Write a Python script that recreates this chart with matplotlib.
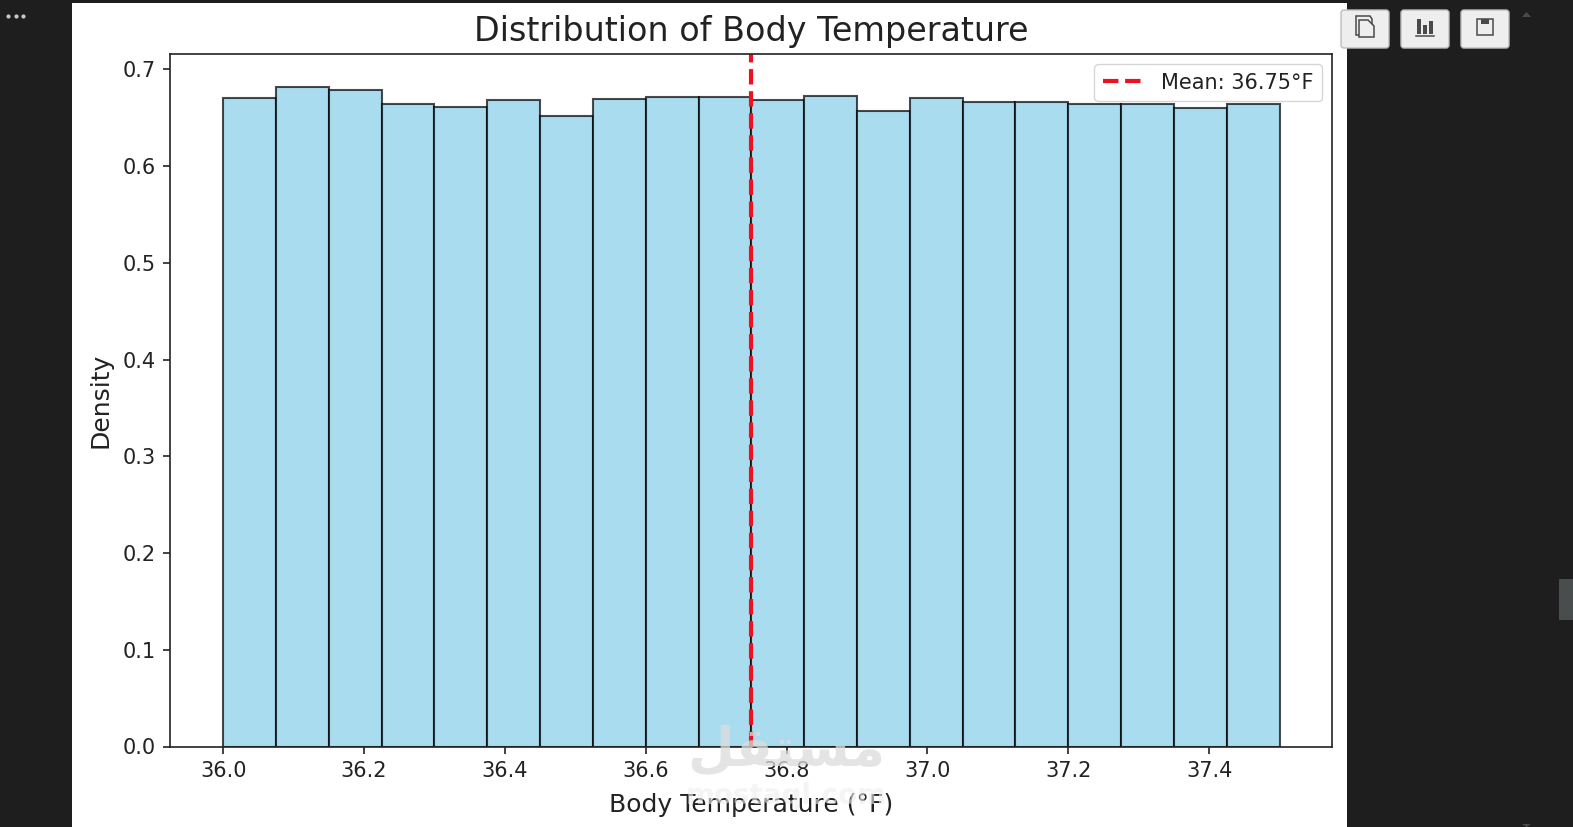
import matplotlib
matplotlib.use("Agg")
import matplotlib.pyplot as plt
from matplotlib.patches import FancyBboxPatch, Polygon, Rectangle

# Histogram data: density per bin over 36.0-37.5 degrees
bin_start = 36.0
bin_end = 37.5
densities = [0.671, 0.682, 0.679, 0.664, 0.661, 0.668, 0.652, 0.669, 0.672, 0.672,
             0.668, 0.673, 0.657, 0.671, 0.666, 0.666, 0.664, 0.664, 0.660, 0.664]
mean_temp = 36.75
x_ticks = [36.0, 36.2, 36.4, 36.6, 36.8, 37.0, 37.2, 37.4]
y_ticks = [0.0, 0.1, 0.2, 0.3, 0.4, 0.5, 0.6, 0.7]

W, H = 1573, 827
DARK = "#1e1e1e"
INK = "#222222"

fig = plt.figure(figsize=(W / 100, H / 100), dpi=100, facecolor=DARK)

# Full-figure layer in pixel units for the notebook surroundings
ui = fig.add_axes([0, 0, 1, 1], zorder=0)
ui.set_xlim(0, W)
ui.set_ylim(H, 0)
ui.axis("off")
ui.add_patch(Rectangle((72, 3), 1275, 824, fc="white", ec="none"))

# Chart axes
ax = fig.add_axes([170.4 / W, 1 - 746.5 / H, 1162 / W, 692.5 / H], zorder=1)
n_bins = len(densities)
width = (bin_end - bin_start) / n_bins
lefts = [bin_start + i * width for i in range(n_bins)]
ax.bar(lefts, densities, width=width, align="edge", color="skyblue",
       edgecolor="black", linewidth=1.5, alpha=0.7)
ax.axvline(mean_temp, color="#f01020", linestyle="--", linewidth=3,
           label=f"Mean: {mean_temp:.2f}°F")

ax.set_xlim(35.925, 37.575)
ax.set_ylim(0, 0.716)
ax.set_xticks(x_ticks)
ax.set_xticklabels([f"{v:.1f}" for v in x_ticks])
ax.set_yticks(y_ticks)
ax.set_yticklabels([f"{v:.1f}" for v in y_ticks])
ax.tick_params(labelsize=15, width=1.2, length=5.25, pad=5.25, colors=INK)
for spine in ax.spines.values():
    spine.set_linewidth(1.2)
    spine.set_color(INK)

ax.set_title("Distribution of Body Temperature", fontsize=24, pad=9, color=INK)
ax.set_xlabel("Body Temperature (°F)", fontsize=18, labelpad=8.5, color=INK)
ax.set_ylabel("Density", fontsize=18, labelpad=7, color=INK)
legend = ax.legend(loc="upper right", fontsize=15, framealpha=0.8)
for label in legend.get_texts():
    label.set_color(INK)

# Foreground layer for toolbar icons and the faint site mark
top = fig.add_axes([0, 0, 1, 1], zorder=2)
top.set_xlim(0, W)
top.set_ylim(H, 0)
top.axis("off")
top.patch.set_alpha(0)

for dot_x in (8, 15.5, 23):
    top.plot([dot_x], [16], "o", ms=3, color="#c8c8c8", mec="none")

for bx in (1341, 1401, 1461):
    top.add_patch(FancyBboxPatch((bx + 2, 12), 44, 34, boxstyle="round,pad=2,rounding_size=3",
                                 fc="#eeeeee", ec="#bdbdbd", lw=1))

icon = "#4a4a4a"
# Copy icon
top.add_patch(Polygon([(1356, 16), (1370, 16), (1372, 19), (1372, 35), (1356, 35)],
                      closed=True, fc="none", ec=icon, lw=1.1))
top.add_patch(Polygon([(1359, 20), (1368, 20), (1374, 26), (1374, 37), (1359, 37)],
                      closed=True, fc="#eeeeee", ec=icon, lw=1.1))
# Bar chart icon
for rx, rtop in ((1417, 19), (1423, 25), (1429, 21)):
    top.add_patch(Rectangle((rx, rtop), 4, 34 - rtop, fc=icon, ec="none"))
top.plot([1416, 1434], [35.5, 35.5], color=icon, lw=1.1)
# Save icon
top.add_patch(Rectangle((1477, 19), 16, 16, fc="none", ec=icon, lw=1.1))
top.add_patch(Rectangle((1481, 19), 8, 5, fc=icon, ec="none"))

# Scrollbar arrows and thumb
top.add_patch(Polygon([(1522, 17), (1531, 17), (1526.5, 12)], closed=True, fc="#4a4a4a", ec="none"))
top.add_patch(Polygon([(1522, 824), (1531, 824), (1526.5, 827)], closed=True, fc="#4a4a4a", ec="none"))
top.add_patch(Rectangle((1559, 579), 14, 41, fc="#4a4d4e", ec="none"))

# Site mark laid over the lower middle of the chart
top.text(786, 750, "\ufede\ufed8\ufe98\ufeb4\ufee3", fontsize=39, fontweight="bold",
         family="DejaVu Sans", ha="center", va="center", color="#dcdcdc", alpha=0.75)
top.text(786, 796, "mostaql.com", fontsize=20, fontweight="bold", family="DejaVu Sans",
         ha="center", va="center", color="#eeeeee", alpha=0.6)

fig.savefig("out.png", dpi=100, facecolor=DARK)
